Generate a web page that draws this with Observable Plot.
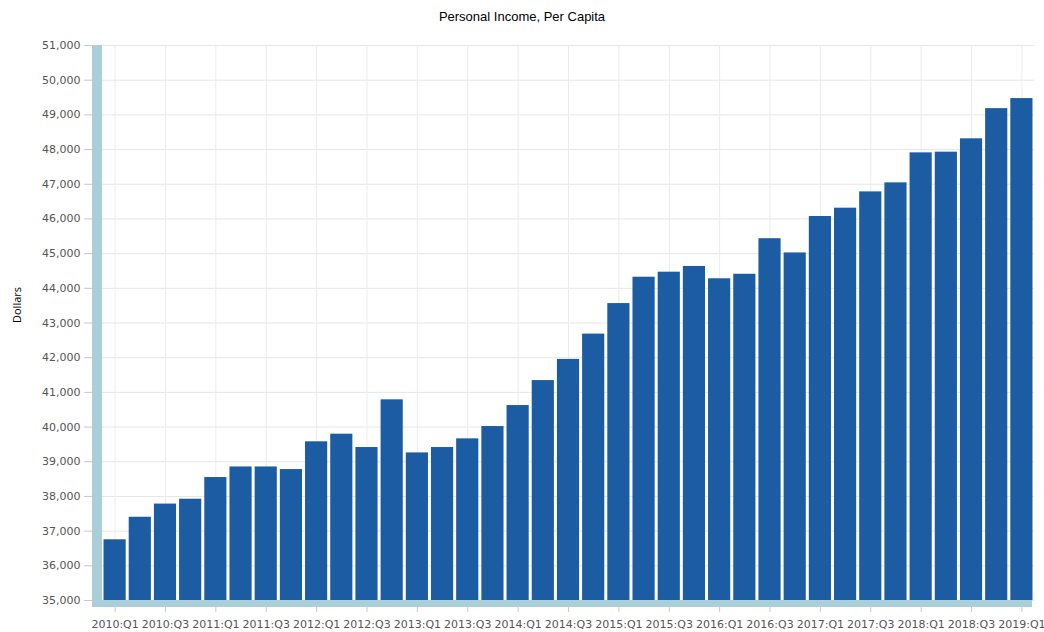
<!DOCTYPE html>
<html><head><meta charset="utf-8">
<script src="https://cdn.jsdelivr.net/npm/d3@7"></script>
<script src="https://cdn.jsdelivr.net/npm/@observablehq/plot@0.6"></script>
<style>
body{margin:0;background:#fff;}
#title{height:34px;font:13px "Liberation Sans",Arial,sans-serif;line-height:34px;text-align:center;color:#000;}
</style></head><body>
<div id="title">Personal Income, Per Capita</div>
<div id="chart"></div>
<script>
const quarters = ["2010:Q1","2010:Q2","2010:Q3","2010:Q4","2011:Q1","2011:Q2","2011:Q3","2011:Q4",
  "2012:Q1","2012:Q2","2012:Q3","2012:Q4","2013:Q1","2013:Q2","2013:Q3","2013:Q4",
  "2014:Q1","2014:Q2","2014:Q3","2014:Q4","2015:Q1","2015:Q2","2015:Q3","2015:Q4",
  "2016:Q1","2016:Q2","2016:Q3","2016:Q4","2017:Q1","2017:Q2","2017:Q3","2017:Q4",
  "2018:Q1","2018:Q2","2018:Q3","2018:Q4","2019:Q1"];
const income = [36750,37400,37780,37920,38545,38850,38850,38775,
  39575,39795,39410,40785,39255,39410,39660,40015,
  40620,41340,41950,42680,43560,44320,44465,44630,
  44275,44405,45430,45020,46070,46310,46780,47040,
  47905,47925,48310,49180,49470];
const xTickLabels = ["2010:Q1","2010:Q3","2011:Q1","2011:Q3","2012:Q1","2012:Q3","2013:Q1","2013:Q3",
  "2014:Q1","2014:Q3","2015:Q1","2015:Q3","2016:Q1","2016:Q3","2017:Q1","2017:Q3",
  "2018:Q1","2018:Q3","2019:Q1"];
const yTicks = [35000,36000,37000,38000,39000,40000,41000,42000,43000,44000,45000,46000,47000,48000,49000,50000,51000];
const yDomain = [35000, 51000];

const data = quarters.map((q, i) => ({quarter: q, value: income[i]}));

const W = 1044, H = 598, mL = 102, mR = 10, mT = 11, mB = 32;
const plot = Plot.plot({
  width: W, height: H,
  marginLeft: mL, marginRight: mR, marginTop: mT, marginBottom: mB,
  style: {fontFamily: "DejaVu Sans", fontSize: "11px", color: "#555", background: "#fff", overflow: "visible"},
  x: {domain: quarters, paddingInner: 0.12, paddingOuter: 0.06, round: false},
  y: {domain: yDomain},
  marks: [
    Plot.gridY(yTicks, {stroke: "#e6e6e6", strokeOpacity: 1}),
    Plot.gridX(xTickLabels, {stroke: "#ececec", strokeOpacity: 1}),
    Plot.barY(data, {x: "quarter", y1: yDomain[0], y2: "value", fill: "#1b5ca3"}),
    Plot.axisY(yTicks, {tickSize: 18, tickPadding: 4, tickFormat: d3.format(","), stroke: "#c8c8c8", label: null}),
    Plot.axisX(xTickLabels, {tickSize: 12, tickPadding: 8, stroke: "#c8c8c8", label: null}),
    Plot.text(["Dollars"], {frameAnchor: "left", rotate: -90, dx: -85, fontFamily: "Open Sans", fontSize: 11, fill: "#000"})
  ]
});
const svg = d3.select(plot);
svg.append("rect").attr("x", 92).attr("y", mT).attr("width", 10).attr("height", H - mB - mT + 7).attr("fill", "#aacfdb");
svg.append("rect").attr("x", mL).attr("y", H - mB).attr("width", W - mR - mL - 2).attr("height", 7).attr("fill", "#aacfdb");
document.getElementById("chart").appendChild(plot);
</script>
</body></html>
